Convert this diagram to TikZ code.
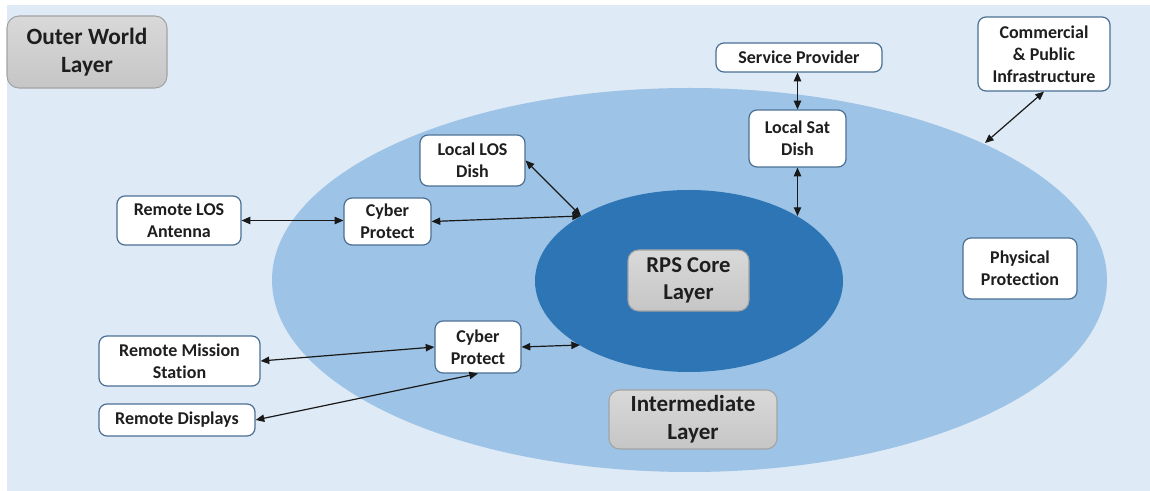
\documentclass[tikz,border=0pt]{standalone}
\usepackage{fontspec}
\setmainfont{Carlito}[Ligatures={NoCommon}]
\usetikzlibrary{arrows.meta,shapes.geometric}
\definecolor{bgblue}{HTML}{DEEAF6}
\definecolor{midblue}{HTML}{9DC3E6}
\definecolor{coreblue}{HTML}{2E75B6}
\definecolor{boxedge}{HTML}{4A6F94}
\definecolor{txt}{HTML}{1E1E1E}
\definecolor{layeredge}{HTML}{A3A3A3}
\tikzset{
  comp/.style={draw=boxedge, line width=0.9pt, fill=white, rounded corners=6pt,
    align=center, inner sep=0pt, text=txt,
    font=\fontsize{13.5}{16.5}\selectfont\bfseries},
  layer/.style={draw=layeredge, line width=0.8pt, top color=gray!30, bottom color=gray!45,
    rounded corners=8pt, align=center, inner sep=0pt, text=txt},
  biarrow/.style={{Triangle[length=6.5pt,width=5.5pt]}-{Triangle[length=6.5pt,width=5.5pt]},
    line width=0.9pt, draw=black!90},
}
\begin{document}
\begin{tikzpicture}[x=0.75pt,y=-0.75pt]
\useasboundingbox (0,0) rectangle (1150,491);
% outer world background
\fill[white] (0,0) rectangle (1150,491);
\fill[bgblue] (7,5) rectangle (1150,491);
% intermediate and core rings
\fill[midblue] (689.5,280) ellipse [x radius=417.5, y radius=192];
\fill[coreblue] (689,281) ellipse [x radius=154, y radius=91];

% contact points on the ring borders
\coordinate (c1) at (581,216);
\coordinate (c2) at (797.5,216);
\coordinate (c3) at (580,345);
\coordinate (c4) at (985,143);

% layer labels
\node[layer, minimum width=120pt, minimum height=54pt, rounded corners=9pt,
  font=\fontsize{17.5}{21}\selectfont\bfseries] (outer) at (87,52) {Outer World\\Layer};
\node[layer, minimum width=90.75pt, minimum height=45.75pt,
  font=\fontsize{17}{20}\selectfont\bfseries] (core) at (688.5,280.5) {RPS Core\\Layer};
\node[layer, minimum width=126pt, minimum height=44.25pt,
  font=\fontsize{17.3}{21}\selectfont\bfseries] (inter) at (693,419.5) {Intermediate\\Layer};

% components
\node[comp, minimum width=124.5pt, minimum height=21.75pt] (sp) at (799,57.5) {Service Provider};
\node[comp, minimum width=99pt, minimum height=55.5pt] (com) at (1044,54) {Commercial\\\& Public\\Infrastructure};
\node[comp, minimum width=72.75pt, minimum height=42.75pt] (sat) at (797.5,138.5) {Local Sat\\Dish};
\node[comp, minimum width=78.75pt, minimum height=38.25pt] (los) at (472.5,160.5) {Local LOS\\Dish};
\node[comp, minimum width=93pt, minimum height=36.75pt] (rlos) at (179,220.5) {Remote LOS\\Antenna};
\node[comp, minimum width=65.25pt, minimum height=35.25pt] (cyb1) at (387.5,221.5) {Cyber\\Protect};
\node[comp, minimum width=85.5pt, minimum height=45.75pt] (phys) at (1020,268.5) {Physical\\Protection};
\node[comp, minimum width=120.75pt, minimum height=37.5pt] (rms) at (179.5,361) {Remote Mission\\Station};
\node[comp, minimum width=64.5pt, minimum height=39pt] (cyb2) at (478,347) {Cyber\\Protect};
\node[comp, minimum width=117pt, minimum height=24pt] (rd) at (177,420) {Remote Displays};

% connections
\draw[biarrow] (sat.north) -- (sat.north |- sp.south);
\draw[biarrow] (sat.south) -- (c2);
\draw[biarrow] (com.south) -- (c4);
\draw[biarrow] (los.east) -- (c1);
\draw[biarrow] (cyb1.east) -- (c1);
\draw[biarrow] (rlos.east) -- (rlos.east -| cyb1.west);
\draw[biarrow] (rms.east) -- (cyb2.west);
\draw[biarrow] (rd.east) -- (cyb2.south);
\draw[biarrow] (cyb2.east) -- (c3);
\end{tikzpicture}
\end{document}
